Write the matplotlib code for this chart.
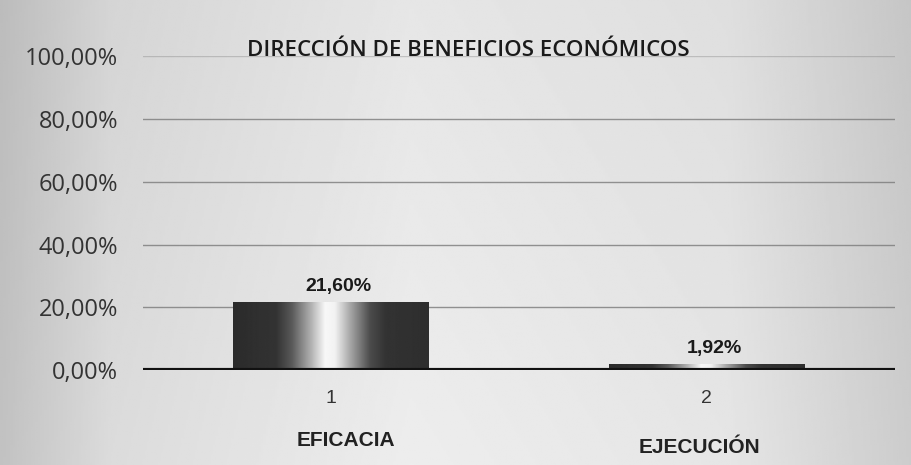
import numpy as np
import matplotlib.pyplot as plt
import matplotlib.transforms as mtransforms

# datos del grafico
categorias = ['EFICACIA', 'EJECUCIÓN']
numeros = ['1', '2']
valores = [21.60, 1.92]
etiquetas = ['21,60%', '1,92%']
y_ticks = [0, 20, 40, 60, 80, 100]
y_labels = ['0,00%', '20,00%', '40,00%', '60,00%', '80,00%', '100,00%']
titulo = 'DIRECCIÓN DE BENEFICIOS ECONÓMICOS'

fig = plt.figure(figsize=(9.12, 4.65), dpi=100)

# fondo tipo escaneo (gris en los bordes, claro en el centro)
bg = fig.add_axes([0, 0, 1, 1], zorder=-10)
xx = np.linspace(0, 1, 400)
fondo = np.interp(xx, [0, 0.12, 0.45, 0.8, 1.0], [0.76, 0.86, 0.93, 0.9, 0.8])
yy = np.linspace(0, 1, 200)[:, None]
fondo = fondo[None, :] * (0.97 + 0.03 * yy)
bg.imshow(fondo, cmap='gray', vmin=0, vmax=1, aspect='auto', extent=[0, 1, 0, 1])
bg.set_axis_off()

ax = fig.add_axes([0.157, 0.204, 0.824, 0.675])
ax.patch.set_alpha(0)
x = np.arange(len(valores))

# lineas de cuadricula
for t in y_ticks[1:]:
    alfa = 0.35 if t == 100 else 0.8
    ax.axhline(t, color='#7a7a7a', linewidth=1.0, alpha=alfa, zorder=1)

bars = ax.bar(x, valores, width=0.52, color='none', edgecolor='none', zorder=2)

# degradado metalico de las barras
tt = np.linspace(0, 1, 300)
grad = np.interp(tt, [0, 0.22, 0.3, 0.4, 0.47, 0.52, 0.6, 0.7, 0.78, 1.0],
                 [0.17, 0.2, 0.35, 0.7, 0.97, 0.95, 0.65, 0.3, 0.2, 0.18])[None, :]
for b in bars:
    x0, y0 = b.get_x(), b.get_y()
    im = ax.imshow(grad, cmap='gray', vmin=0, vmax=1, aspect='auto',
                   extent=[x0, x0 + b.get_width(), y0, y0 + b.get_height()], zorder=2)
    im.set_clip_path(b)

for xi, v, lab in zip(x, valores, etiquetas):
    ax.text(xi + 0.02, v + 2.2, lab, ha='center', va='bottom', fontsize=14,
            fontweight='bold', family='Liberation Sans', color='#1a1a1a')

ax.axhline(0, color='#111111', linewidth=3.0, zorder=3)

ax.set_xlim(-0.5, 1.5)
ax.set_ylim(0, 100)
ax.set_yticks(y_ticks)
ax.set_yticklabels(y_labels, family='Open Sans', fontsize=17, color='#333333')
ax.set_xticks(x)
ax.set_xticklabels(numeros, family='Liberation Sans', fontsize=14, color='#333333')
ax.tick_params(axis='y', length=0, pad=18)
ax.tick_params(axis='x', length=0, pad=14)
for s in ax.spines.values():
    s.set_visible(False)

trans = mtransforms.blended_transform_factory(ax.transData, fig.transFigure)
ax.text(0.04, 1 - 440 / 465, categorias[0], transform=trans, ha='center', va='center',
        fontsize=15, fontweight='bold', family='Liberation Sans', color='#222222')
ax.text(0.98, 1 - 447 / 465, categorias[1], transform=trans, ha='center', va='center',
        fontsize=15, fontweight='bold', family='Liberation Sans', color='#222222')

fig.text(468 / 912, 1 - 50 / 465, titulo, ha='center', va='center', fontsize=16,
         fontweight='semibold', family='Open Sans', color='#1a1a1a')

plt.savefig('out.png', dpi=100)
plt.close()
